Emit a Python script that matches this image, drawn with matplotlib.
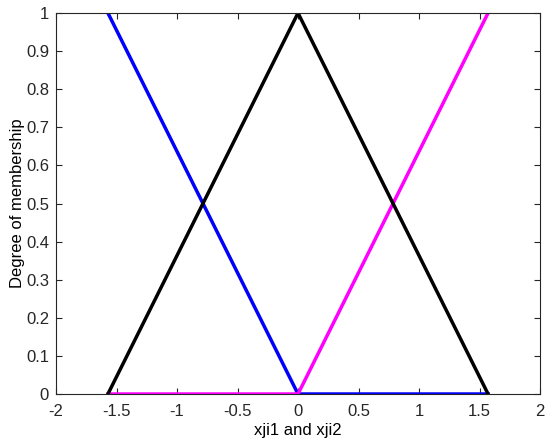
import numpy as np
import matplotlib.pyplot as plt

plt.rcParams['font.family'] = ['Liberation Sans', 'DejaVu Sans']

# membership function breakpoints
x_pts = [-np.pi / 2, 0, np.pi / 2]
mf_neg = [1, 0, 0]     # blue
mf_zero = [0, 1, 0]    # black
mf_pos = [0, 0, 1]     # magenta

fig = plt.figure(figsize=(5.5, 4.47), dpi=100)
ax = fig.add_axes([56 / 550, 1 - 394 / 447, 484 / 550, 381 / 447])

ax.plot(x_pts, mf_neg, color='blue', lw=2.5)
ax.plot(x_pts, mf_pos, color='magenta', lw=2.5)
ax.plot(x_pts, mf_zero, color='black', lw=2.5)

ax.set_xlim(-2, 2)
ax.set_ylim(0, 1)
ax.set_xticks(np.arange(-2, 2.01, 0.5))
ax.set_xticklabels(['-2', '-1.5', '-1', '-0.5', '0', '0.5', '1', '1.5', '2'])
ax.set_yticks(np.arange(0, 1.01, 0.1))
ax.set_yticklabels(['0', '0.1', '0.2', '0.3', '0.4', '0.5', '0.6', '0.7', '0.8', '0.9', '1'])
ax.tick_params(direction='in', top=True, right=True, labelsize=12, colors='#262626', length=4)
ax.tick_params(axis='x', pad=7)
ax.tick_params(axis='y', pad=5)
for s in ax.spines.values():
    s.set_color('#262626')
    s.set_linewidth(0.8)
ax.set_xlabel('xji1 and xji2', fontsize=12, labelpad=3)
ax.set_ylabel('Degree of membership', fontsize=12, labelpad=1)

plt.savefig('out.png', dpi=100)
